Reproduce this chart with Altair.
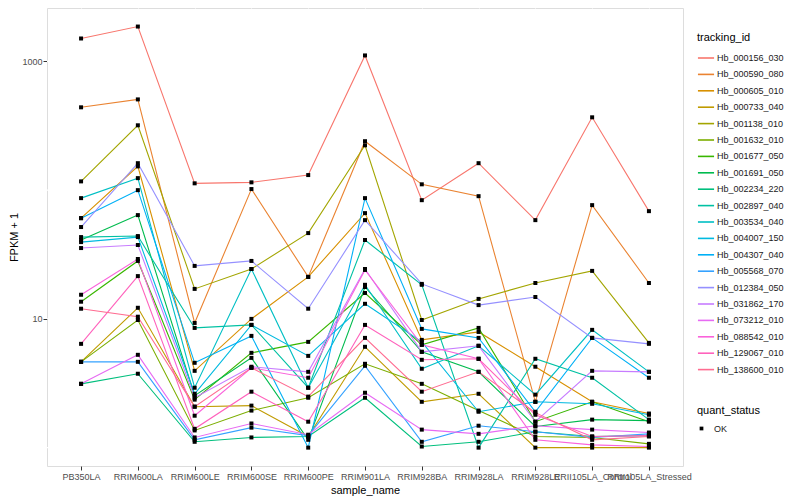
import altair as alt
import pandas as pd

samples = ["PB350LA", "RRIM600LA", "RRIM600LE", "RRIM600SE", "RRIM600PE", "RRIM901LA",
           "RRIM928BA", "RRIM928LA", "RRIM928LE", "RRII105LA_Control", "RRII105LA_Stressed"]

ids = ["Hb_000156_030", "Hb_000590_080", "Hb_000605_010", "Hb_000733_040", "Hb_001138_010",
       "Hb_001632_010", "Hb_001677_050", "Hb_001691_050", "Hb_002234_220", "Hb_002897_040",
       "Hb_003534_040", "Hb_004007_150", "Hb_004307_040", "Hb_005568_070", "Hb_012384_050",
       "Hb_031862_170", "Hb_073212_010", "Hb_088542_010", "Hb_129067_010", "Hb_138600_010"]

colors = ["#F8766D", "#EA8331", "#D89000", "#C09B00", "#A3A500", "#7CAE00", "#39B600", "#00BB4E",
          "#00BF7D", "#00C1A3", "#00BFC4", "#00BAE0", "#00B0F6", "#35A2FF", "#9590FF", "#C77CFF",
          "#E76BF3", "#FA62DB", "#FF62BC", "#FF6C91"]

Hb_000156_030 = [1507, 1866, 113, 115, 131, 1113, 83.6, 162, 58.5, 368, 68.7]
Hb_000590_080 = [440, 507, 9.3, 102, 21.2, 240, 111, 89.8, 2.27, 76.5, 19.0]
Hb_000605_010 = [60.6, 153, 3.95, 10.0, 21.2, 66.3, 6.87, 7.92, 4.25, 2.27, 1.84]
Hb_000733_040 = [4.64, 12.2, 2.08, 2.12, 1.22, 6.07, 2.27, 2.62, 1.0, 1.0, 1.0]
Hb_001138_010 = [117, 319, 17.1, 24.4, 46.4, 223, 9.8, 14.3, 19.0, 23.6, 6.51]
Hb_001632_010 = [4.64, 9.8, 1.36, 1.94, 2.44, 4.48, 3.13, 1.94, 1.22, 1.20, 1.07]
Hb_001677_050 = [13.6, 28.2, 2.36, 5.45, 6.63, 15.9, 6.29, 8.51, 1.59, 2.27, 1.59]
Hb_001691_050 = [41.0, 64.0, 2.53, 4.98, 1.15, 17.7, 5.55, 3.88, 1.46, 1.65, 1.62]
Hb_002234_220 = [3.13, 3.75, 1.11, 1.20, 1.22, 2.44, 1.02, 1.11, 1.33, 1.22, 1.24]
Hb_002897_040 = [43.2, 44.0, 8.51, 8.98, 2.92, 41.0, 18.4, 1.0, 4.90, 3.49, 1.65]
Hb_003534_040 = [86.7, 124, 2.92, 24.4, 2.92, 18.4, 4.10, 6.18, 2.58, 8.22, 3.88]
Hb_004007_150 = [39.5, 43.2, 2.62, 8.98, 5.16, 13.1, 6.63, 1.90, 2.27, 2.19, 1.80]
Hb_004307_040 = [60.6, 100, 4.56, 7.38, 1.0, 86.7, 8.36, 7.12, 1.90, 7.12, 3.49]
Hb_005568_070 = [4.64, 4.64, 1.15, 1.43, 1.24, 4.32, 1.11, 1.48, 1.33, 1.20, 1.28]
Hb_012384_050 = [51.7, 162, 25.8, 28.2, 12.0, 58.5, 18.7, 12.8, 14.8, 7.12, 6.40]
Hb_031862_170 = [35.5, 37.5, 2.44, 4.25, 3.88, 24.4, 5.55, 6.18, 1.59, 3.95, 3.88]
Hb_073212_010 = [3.13, 5.26, 1.20, 1.54, 1.26, 2.67, 1.38, 1.28, 1.48, 1.38, 1.31]
Hb_088542_010 = [15.4, 29.2, 1.77, 4.17, 3.49, 24.0, 6.29, 4.90, 1.15, 1.05, 1.02]
Hb_129067_010 = [6.40, 21.5, 1.40, 2.72, 1.59, 8.98, 4.81, 4.90, 1.80, 1.22, 1.24]
Hb_138600_010 = [12.0, 10.4, 2.08, 4.17, 2.49, 7.12, 2.72, 3.88, 1.87, 1.15, 1.22]

series = [Hb_000156_030, Hb_000590_080, Hb_000605_010, Hb_000733_040, Hb_001138_010,
          Hb_001632_010, Hb_001677_050, Hb_001691_050, Hb_002234_220, Hb_002897_040,
          Hb_003534_040, Hb_004007_150, Hb_004307_040, Hb_005568_070, Hb_012384_050,
          Hb_031862_170, Hb_073212_010, Hb_088542_010, Hb_129067_010, Hb_138600_010]

y_gridlines = [1, 10, 100, 1000]
y_ticks = [10, 1000]

rows = []
for gi, (tid, vals) in enumerate(zip(ids, series)):
    for si, (s, v) in enumerate(zip(samples, vals)):
        rows.append({"tracking_id": tid, "sample_name": s, "fpkm1": v, "idx": si,
                     "grp": gi, "quant_status": "OK"})
df = pd.DataFrame(rows)
grid_df = pd.DataFrame({"fpkm1": y_gridlines})

FONT = "Liberation Sans"

yscale = alt.Scale(type="log", domain=[0.72, 2600], nice=False)
yaxis = alt.Axis(values=y_ticks, format="d", grid=False, domain=False, tickColor="#333333",
                 tickSize=4, labelColor="#4D4D4D", labelFontSize=9, titleFontSize=11,
                 titleColor="black", titleFontWeight="normal", labelPadding=1, titlePadding=2,
                 title="FPKM + 1")
xscale = alt.Scale(type="point", padding=0.6, domain=samples)
xaxis = alt.Axis(title="sample_name", labelAngle=0, grid=True, gridColor="white", gridWidth=1.1,
                 domain=False, tickColor="#333333", tickSize=4, labelColor="#4D4D4D",
                 labelFontSize=9, titleFontSize=11, titleColor="black", titleFontWeight="normal",
                 labelPadding=2, titlePadding=3)

grid = alt.Chart(grid_df).mark_rule(color="white", strokeWidth=1.1).encode(
    y=alt.Y("fpkm1:Q", scale=yscale, axis=yaxis)
)

lines = alt.Chart(df).mark_line(strokeWidth=1.1).encode(
    x=alt.X("sample_name:N", scale=xscale, axis=xaxis, sort=samples),
    y=alt.Y("fpkm1:Q", scale=yscale, axis=yaxis),
    color=alt.Color("tracking_id:N",
                    scale=alt.Scale(domain=ids, range=colors),
                    legend=alt.Legend(orient="none", legendX=650, legendY=24, title="tracking_id",
                                      symbolType="stroke", symbolSize=260, symbolStrokeWidth=1.6,
                                      labelFontSize=9, titleFontSize=11, titleFontWeight="normal",
                                      titleColor="black", labelColor="#1a1a1a", rowPadding=2.4,
                                      labelOffset=2, titlePadding=6)),
    detail="grp:N",
    order="idx:Q",
)

points = alt.Chart(df).mark_point(filled=True, size=16, color="black", opacity=1).encode(
    x=alt.X("sample_name:N", scale=xscale, axis=xaxis, sort=samples),
    y=alt.Y("fpkm1:Q", scale=yscale, axis=yaxis),
    shape=alt.Shape("quant_status:N", scale=alt.Scale(range=["square"]),
                    legend=alt.Legend(orient="none", legendX=650, legendY=397, title="quant_status",
                                      symbolSize=14, labelFontSize=9, titleFontSize=11,
                                      titleFontWeight="normal", titleColor="black",
                                      labelColor="#1a1a1a", labelOffset=8, titlePadding=8,
                                      symbolFillColor="black", symbolStrokeColor="black")),
)

chart = alt.layer(grid, lines, points).properties(
    width=636, height=458,
    autosize=alt.AutoSizeParams(type="none"),
    padding={"left": 39, "top": 0, "right": 109, "bottom": 34},
).configure_view(fill="#EBEBEB", stroke=None).configure(
    font=FONT, background="white"
)

chart.save("out.html", embed_options={"renderer": "svg", "actions": False})
